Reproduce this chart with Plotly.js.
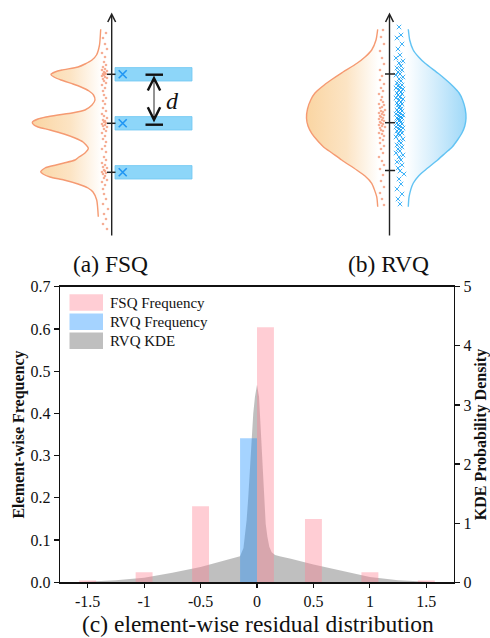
<!DOCTYPE html>
<html>
<head>
<meta charset="utf-8">
<script src="https://cdn.plot.ly/plotly-3.0.1.min.js"></script>
<style>html,body{margin:0;padding:0;background:#fff;}#chart{width:490px;height:638px;}</style>
</head>
<body>
<div id="chart"></div>
<script>
// ---------------- (c) residual distribution data ----------------
const fsqX = [-1.5, -1, -0.5, 0.075, 0.5, 1, 1.5];
const fsqFreq = [0.004, 0.024, 0.180, 0.604, 0.150, 0.024, 0.004];
const rvqX = [-0.075];
const rvqFreq = [0.341];
const kdeX = [-1.6, -1.5, -1.25, -1.0, -0.75, -0.5, -0.27, -0.15, -0.12, -0.106, -0.092, -0.077, -0.062, -0.047, -0.033, -0.018, 0,
              0.018, 0.033, 0.047, 0.062, 0.077, 0.092, 0.109, 0.13, 0.16, 0.2, 0.3, 0.5, 0.75, 1.0, 1.25, 1.5, 1.6];
const kdeY = [0, 0.01, 0.034, 0.075, 0.16, 0.26, 0.37, 0.44, 0.58, 0.77, 1.05, 1.45, 1.95, 2.41, 2.86, 3.14, 3.34,
              3.14, 2.62, 1.95, 1.39, 0.99, 0.77, 0.6, 0.51, 0.46, 0.44, 0.40, 0.30, 0.19, 0.09, 0.034, 0.01, 0];
const xTickVals = [-1.5, -1, -0.5, 0, 0.5, 1, 1.5];
const xTickText = ['-1.5', '-1', '-0.5', '0', '0.5', '1', '1.5'];
const freqTickVals = [0, 0.1, 0.2, 0.3, 0.4, 0.5, 0.6, 0.7];
const freqTickText = ['0.0', '0.1', '0.2', '0.3', '0.4', '0.5', '0.6', '0.7'];
const densTickVals = [0, 1, 2, 3, 4, 5];
const legendNames = ['FSQ Frequency', 'RVQ Frequency', 'RVQ KDE'];

// ---------------- (a) FSQ illustration (picture units) ----------------
const fsqCurveY = [29.3, 45, 55, 60, 64, 67, 70, 72, 74.3, 77, 80, 84, 87, 91, 95, 100, 105, 110, 113, 115, 117, 119, 122.3, 125, 127, 130, 134, 138, 142, 148.3,
                   153, 157, 160, 163, 165, 168, 171.7, 174, 177, 180, 184, 188, 192, 200, 216.7];
const fsqCurveX = [100.7, 99.5, 96.5, 92, 85, 78, 62, 55, 51, 54, 61, 73, 81, 89, 93.5, 95, 92, 85, 72, 58, 46, 38, 32.3, 34, 38, 50, 64, 75, 83, 88.3,
                   85, 79, 75, 64, 56, 45, 40.7, 43, 50, 64, 78, 88, 93, 96.7, 98.3];
const fsqLevels = [74.3, 123.3, 172.3];
const fsqDotX = [104,106,103,105,102,107,104,105,103,106,104,102,105,107,103,104,106,102,105,103,
                 105,103,106,102,104,107,103,105,104,106,102,105,103,107,104,106,102,105,103,106,
                 104,106,102,105,103,107,104,105,102,106,103,105,104,107,102,105,103,
                 106,103,105,107,102,105,104,106,103,105,102,106,104,106,103,108,104,106,103,107];
const fsqDotY = [62,65,67,69,70,71,72,73,74,74,75,76,77,78,79,81,83,85,88,91,
                 104,108,111,114,116,118,120,121,122,123,124,125,126,127,129,131,133,136,139,142,
                 157,160,163,165,167,168,170,171,172,173,174,176,178,180,182,185,189,
                 33,38,44,49,53,57,95,98,101,146,149,152,194,199,204,209,214,219,224,229];

// ---------------- (b) RVQ illustration (picture units) ----------------
const rvqViolinY = [29.3, 40, 50, 57, 63.3, 73.3, 80, 86.7, 93, 100, 109, 118.3, 126, 133.3, 140, 146.7, 153, 160, 170, 176, 183.3, 196.7, 206.7];
const rvqOrangeX = [377.7, 376, 371.7, 365, 357, 341, 331, 322, 315, 310.7, 307.5, 306.5, 308, 311.7, 317, 323.3, 332, 341.7, 356.7, 365, 371.7, 376.7, 377.7];
const rvqBlueX = [408.3, 409.7, 413.2, 418.6, 425.1, 438.1, 446.2, 453.5, 459.1, 462.6, 465.2, 466, 464.8, 461.8, 457.5, 452.4, 445.4, 437.6, 425.4, 418.6, 413.2, 409.1, 408.3];
const rvqLevels = [74, 122.7, 170.5];
const rvqDotX = [381,383,379,384,382,380,385,381,383,379,382,384,380,381,383,379,382,384,380,381,383,379,382,385,380,381,383,379,382,384,380,383,
                 382,380,384,381,383,379,382,380,384,381,383,379,382,384,380,
                 383,381,384,380,382,384,380,383,381,384,380,382,384];
const rvqDotY = [100,102,104,105,107,108,110,111,112,113,114,115,116,117,118,119,120,121,122,123,124,125,126,127,128,130,131,133,134,136,138,140,
                 76,80,84,88,91,94,97,143,146,149,153,157,161,165,169,
                 30,37,44,51,58,64,70,175,181,187,193,199,205];
const rvqCrossX = [399,401,397,402,398,400,396,
                   403,399,401,397,402,398,400,396,403,399,401,397,402,
                   398,400,396,403,399,401,397,402,398,400,396,403,399,401,397,402,398,400,399,401,397,402,398,400,396,403,399,401,397,402,398,400,399,401,397,402,398,400,396,403,399,401,397,402,398,400,
                   396,403,399,401,397,402,398,400,396,403,399,401,397,402,398,400,404,
                   399,401,397,402,398,400];
const rvqCrossY = [27,35,38,44,49,55,58,
                   61,63,66,68,70,72,74,75,77,79,81,83,85,
                   86,87,88,89,90,92,93,94,95,97,98,99,100,102,103,104,105,106,108,109,110,111,112,113,114,115,116,117,118,118,119,120,121,122,123,124,125,126,127,128,129,130,131,133,134,135,
                   137,139,141,143,145,147,149,151,153,155,157,160,162,165,168,171,174,
                   179,184,189,194,199,204];

// ---------------- traces ----------------
const P = {xaxis: 'x3', yaxis: 'y3', hoverinfo: 'skip', showlegend: false};
const closeRight = (xs, ys, edge) => ({x: xs.concat([edge, edge]), y: ys.concat([ys[ys.length - 1], ys[0]])});

const fsqFillPts = closeRight(fsqCurveX, fsqCurveY, 102);
const rvqOrangeFill = closeRight(rvqOrangeX, rvqViolinY, 379);
const rvqBlueFill = closeRight(rvqBlueX, rvqViolinY, 406);

const orangeScale = [[0, 'rgb(250,213,162)'], [0.55, 'rgb(252,228,196)'], [1, 'rgb(255,255,255)']];
const blueScale = [[0, 'rgb(255,255,255)'], [0.45, 'rgb(214,238,252)'], [1, 'rgb(160,217,248)']];

const traces = [
  // bottom chart: KDE (base subplot, right axis) below the bars
  {type: 'scatter', x: kdeX, y: kdeY, xaxis: 'x', yaxis: 'y', mode: 'lines', line: {width: 0, color: 'rgba(128,128,128,0.5)'},
   fill: 'tozeroy', fillcolor: 'rgba(128,128,128,0.5)', name: legendNames[2], showlegend: false, hoverinfo: 'x+y'},
  {type: 'bar', x: fsqX, y: fsqFreq, width: 0.15, xaxis: 'x', yaxis: 'y2', name: legendNames[0], showlegend: false,
   marker: {color: 'rgba(255,130,147,0.4)', line: {width: 0}}},
  {type: 'bar', x: rvqX, y: rvqFreq, width: 0.15, xaxis: 'x', yaxis: 'y2', name: legendNames[1], showlegend: false,
   marker: {color: 'rgba(30,144,255,0.4)', line: {width: 0}}},

  // (a) FSQ KDE gradient + outline
  Object.assign({type: 'scatter', mode: 'none', x: fsqFillPts.x, y: fsqFillPts.y, fill: 'toself',
    fillgradient: {type: 'horizontal', colorscale: orangeScale}}, P),
  Object.assign({type: 'scatter', mode: 'lines', x: fsqCurveX, y: fsqCurveY, line: {color: '#f59a72', width: 1.4, shape: 'spline', smoothing: 0.6}}, P),
  Object.assign({type: 'scatter', mode: 'markers', x: fsqDotX, y: fsqDotY, marker: {color: '#f3a083', size: 2.6, opacity: 0.85}}, P),
  Object.assign({type: 'scatter', mode: 'markers', x: fsqLevels.map(() => 122.7), y: fsqLevels,
    marker: {symbol: 'x-thin', size: 8, line: {color: '#2196f3', width: 1.6}}}, P),

  // (b) RVQ violins
  Object.assign({type: 'scatter', mode: 'none', x: rvqOrangeFill.x, y: rvqOrangeFill.y, fill: 'toself',
    fillgradient: {type: 'horizontal', colorscale: orangeScale}}, P),
  Object.assign({type: 'scatter', mode: 'lines', x: rvqOrangeX, y: rvqViolinY, line: {color: '#f59a72', width: 1.4, shape: 'spline', smoothing: 0.6}}, P),
  Object.assign({type: 'scatter', mode: 'none', x: rvqBlueFill.x, y: rvqBlueFill.y, fill: 'toself',
    fillgradient: {type: 'horizontal', colorscale: blueScale}}, P),
  Object.assign({type: 'scatter', mode: 'lines', x: rvqBlueX, y: rvqViolinY, line: {color: '#62c3f3', width: 1.4, shape: 'spline', smoothing: 0.6}}, P),
  Object.assign({type: 'scatter', mode: 'markers', x: rvqDotX, y: rvqDotY, marker: {color: '#f3a083', size: 2.6, opacity: 0.85}}, P),
  Object.assign({type: 'scatter', mode: 'markers', x: rvqCrossX, y: rvqCrossY,
    marker: {symbol: 'x-thin', size: 4.5, line: {color: 'rgba(20,160,245,0.8)', width: 1.0}}}, P)
];

// ---------------- shapes / annotations ----------------
const shapes = [];
const annotations = [];
const S = {xref: 'x3', yref: 'y3'};

// (a) blue quantisation bands, ticks
fsqLevels.forEach(v => {
  shapes.push(Object.assign({type: 'rect', x0: 115, x1: 192, y0: v - 6.7, y1: v + 6.7, fillcolor: '#8dd6f9', line: {color: '#6ec7f2', width: 0.8}, layer: 'below'}, S));
  shapes.push(Object.assign({type: 'line', x0: 107, x1: 115.5, y0: v, y1: v, line: {color: '#222', width: 1.5}}, S));
});
rvqLevels.forEach(v => {
  shapes.push(Object.assign({type: 'line', x0: 385, x1: 395, y0: v, y1: v, line: {color: '#222', width: 1.5}}, S));
});
// d caps
[fsqLevels[0] + 0.4, fsqLevels[1] + 1.4].forEach(v => {
  shapes.push(Object.assign({type: 'line', x0: 145.5, x1: 163, y0: v, y1: v, line: {color: '#111', width: 2.4}}, S));
});

// vertical axes with arrows
[111.7, 389.5].forEach(xa => {
  annotations.push(Object.assign({x: xa, y: 12.5, ax: xa, ay: 237, axref: 'x3', ayref: 'y3', text: '', showarrow: true,
    arrowhead: 5, arrowsize: 1.1, arrowwidth: 1.4, arrowcolor: '#222'}, S));
});
// double arrow d
annotations.push(Object.assign({x: 154, y: fsqLevels[0] + 1.2, ax: 154, ay: fsqLevels[1] + 0.6, axref: 'x3', ayref: 'y3', text: '', showarrow: true,
  arrowside: 'end+start', arrowhead: 5, startarrowhead: 5, arrowsize: 2.7, startarrowsize: 2.7, arrowwidth: 0.9, arrowcolor: '#111'}, S));
annotations.push(Object.assign({x: 172, y: 101, text: '<i>d</i>', showarrow: false, font: {family: 'Liberation Serif', size: 24, color: '#111'}}, S));

// captions
const capFont = {family: 'Liberation Serif', size: 23.5, color: '#111'};
annotations.push(Object.assign({x: 110.5, y: 264, text: '(a) FSQ', showarrow: false, font: capFont}, S));
annotations.push(Object.assign({x: 388.5, y: 264, text: '(b) RVQ', showarrow: false, font: capFont}, S));
annotations.push(Object.assign({x: 257.5, y: 637.5, yanchor: 'bottom', borderpad: 0, text: '(c) element-wise residual distribution', showarrow: false, font: capFont}, S));

// custom legend (large swatches)
const legendColors = ['rgba(255,130,147,0.4)', 'rgba(30,144,255,0.4)', 'rgba(128,128,128,0.5)'];
const legendRowY = [302.5, 321.7, 340.7];
legendNames.forEach((name, i) => {
  shapes.push(Object.assign({type: 'rect', x0: 69.5, x1: 103, y0: legendRowY[i] - 8.3, y1: legendRowY[i] + 8.3, fillcolor: legendColors[i], line: {width: 0}}, S));
  annotations.push(Object.assign({x: 107.5, y: legendRowY[i], xanchor: 'left', text: name, showarrow: false,
    font: {family: 'Liberation Serif', size: 15, color: '#111'}}, S));
});

const axFont = {family: 'Liberation Serif', size: 16, color: '#111'};
const layout = {
  width: 490, height: 638, autosize: false,
  margin: {l: 0, r: 0, t: 0, b: 0, pad: 0},
  paper_bgcolor: '#fff', plot_bgcolor: 'rgba(0,0,0,0)',
  font: {family: 'Liberation Serif', color: '#111'},
  barmode: 'overlay', showlegend: false,
  xaxis: {domain: [60 / 490, 454 / 490], range: [-1.745, 1.745], tickvals: xTickVals, ticktext: xTickText,
          ticks: 'outside', ticklen: 4, tickwidth: 1.2, tickcolor: '#111', showline: true, linecolor: '#111', linewidth: 1.3,
          mirror: true, showgrid: false, zeroline: false, tickfont: axFont, anchor: 'y', fixedrange: true},
  yaxis: {domain: [(638 - 582.3) / 638, (638 - 286.7) / 638], range: [0, 5], tickvals: densTickVals, side: 'right',
          ticks: 'outside', ticklen: 5, tickwidth: 1.2, tickcolor: '#111', showline: true, linecolor: '#111', linewidth: 1.3,
          showgrid: false, zeroline: false, tickfont: axFont, anchor: 'x', fixedrange: true,
          title: {text: '<b>KDE Probability Density</b>', font: {family: 'Liberation Serif', size: 16, color: '#111'}, standoff: 9}},
  yaxis2: {overlaying: 'y', side: 'left', range: [0, 0.7], tickvals: freqTickVals, ticktext: freqTickText,
          ticks: 'outside', ticklen: 5, tickwidth: 1.2, tickcolor: '#111', showline: true, linecolor: '#111', linewidth: 1.3,
          showgrid: false, zeroline: false, tickfont: axFont, anchor: 'x', fixedrange: true,
          title: {text: '<b>Element-wise Frequency</b>', font: {family: 'Liberation Serif', size: 16, color: '#111'}, standoff: 2}},
  xaxis3: {domain: [0, 1], range: [0, 490], visible: false, fixedrange: true, anchor: 'y3'},
  yaxis3: {domain: [0, 1], range: [638, 0], visible: false, fixedrange: true, anchor: 'x3'},
  shapes: shapes,
  annotations: annotations
};

Plotly.newPlot('chart', traces, layout, {displayModeBar: false, staticPlot: true});
</script>
</body>
</html>
